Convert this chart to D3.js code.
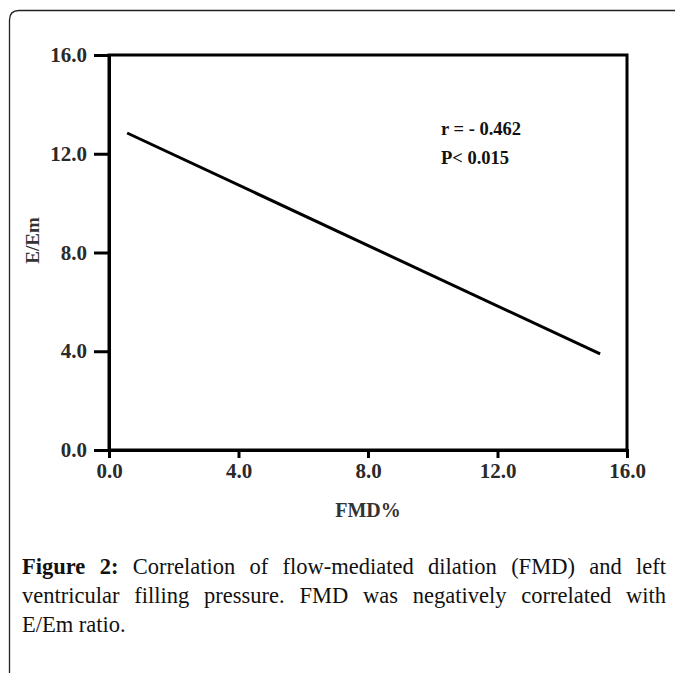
<!DOCTYPE html>
<html><head><meta charset="utf-8">
<script src="https://cdn.jsdelivr.net/npm/d3@7"></script>
<style>html,body{margin:0;padding:0;background:#fff;}svg{display:block;}</style>
</head><body>
<script>
const xTicks = [0, 4, 8, 12, 16];
const yTicks = [0, 4, 8, 12, 16];
const fitX = [0.56, 15.17];
const fitY = [12.84, 3.89];
const annotations = ["r = - 0.462", "P< 0.015"];
const xLabel = "FMD%";
const yLabel = "E/Em";
const captionLines = [
  ["Figure 2:", "Correlation of flow-mediated dilation (FMD) and left"],
  ["", "ventricular filling pressure. FMD was negatively correlated with"],
  ["", "E/Em ratio."]
];

const W = 675, H = 673;
const svg = d3.select("body").append("svg").attr("width", W).attr("height", H);

// outer frame
svg.append("path")
  .attr("d", "M9.5,673 L9.5,20 Q9.5,10.5 19,10.5 L676,10.5")
  .attr("fill", "none").attr("stroke", "#222").attr("stroke-width", 1.3);

const L = 109, R = 627, T = 55, B = 450;
const x = d3.scaleLinear().domain([0, 16]).range([L, R]);
const y = d3.scaleLinear().domain([0, 16]).range([B, T]);

const g = svg.append("g");
const fontTick = "bold 21px 'Liberation Serif', 'Times New Roman', serif";

// box
g.append("rect").attr("x", L).attr("y", T).attr("width", R - L).attr("height", B - T)
  .attr("fill", "none").attr("stroke", "#000").attr("stroke-width", 3);

const xAxis = g.append("g").attr("transform", `translate(0,${B})`)
  .call(d3.axisBottom(x).tickValues(xTicks).tickFormat(d3.format(".1f")).tickSize(8).tickPadding(5));
const yAxis = g.append("g").attr("transform", `translate(${L},0)`)
  .call(d3.axisLeft(y).tickValues(yTicks).tickFormat(d3.format(".1f")).tickSize(15).tickPadding(7));
[xAxis, yAxis].forEach(a => {
  a.select(".domain").attr("stroke", "#000").attr("stroke-width", 3);
  a.selectAll(".tick line").attr("stroke", "#000").attr("stroke-width", 3);
  a.selectAll(".tick text").style("font", fontTick).attr("fill", "#2a2a2a");
});

// fit line
const pts = fitX.map((v, i) => [v, fitY[i]]);
g.append("path").datum(pts)
  .attr("d", d3.line().x(d => x(d[0])).y(d => y(d[1])))
  .attr("fill", "none").attr("stroke", "#000").attr("stroke-width", 3);

// annotation
annotations.forEach((t, i) => {
  g.append("text").attr("x", 441).attr("y", 135 + i * 29)
    .style("font", "bold 18.5px 'Liberation Serif', 'Times New Roman', serif")
    .attr("fill", "#111").text(t);
});

// axis labels
g.append("text").attr("x", x(8)).attr("y", 517).attr("text-anchor", "middle")
  .style("font", "bold 20px 'Liberation Serif', 'Times New Roman', serif").attr("fill", "#333").text(xLabel);
g.append("text").attr("transform", `translate(39,${y(8) - 12}) rotate(-90)`).attr("text-anchor", "middle")
  .style("font", "bold 19px 'Liberation Serif', 'Times New Roman', serif").attr("fill", "#333").text(yLabel);

// caption (justified)
const capX0 = 22, capX1 = 666, capY0 = 574, capDY = 29;
const capFont = "22.5px 'Liberation Serif', 'Times New Roman', serif";
const capBoldFont = "bold 22.5px 'Liberation Serif', 'Times New Roman', serif";
captionLines.forEach((ln, li) => {
  const yy = capY0 + li * capDY;
  const words = [];
  if (ln[0]) ln[0].split(" ").forEach(w => words.push({w, bold: true}));
  ln[1].split(" ").forEach(w => words.push({w, bold: false}));
  const nodes = words.map(o => svg.append("text").attr("y", yy)
    .style("font", o.bold ? capBoldFont : capFont).attr("fill", "#111").text(o.w));
  const widths = nodes.map(n => n.node().getComputedTextLength());
  const total = d3.sum(widths);
  const justify = li < captionLines.length - 1;
  const gap = justify ? (capX1 - capX0 - total) / (words.length - 1) : 5.5;
  let cx = capX0;
  nodes.forEach((n, i) => { n.attr("x", cx); cx += widths[i] + gap; });
});
</script>
</body></html>
